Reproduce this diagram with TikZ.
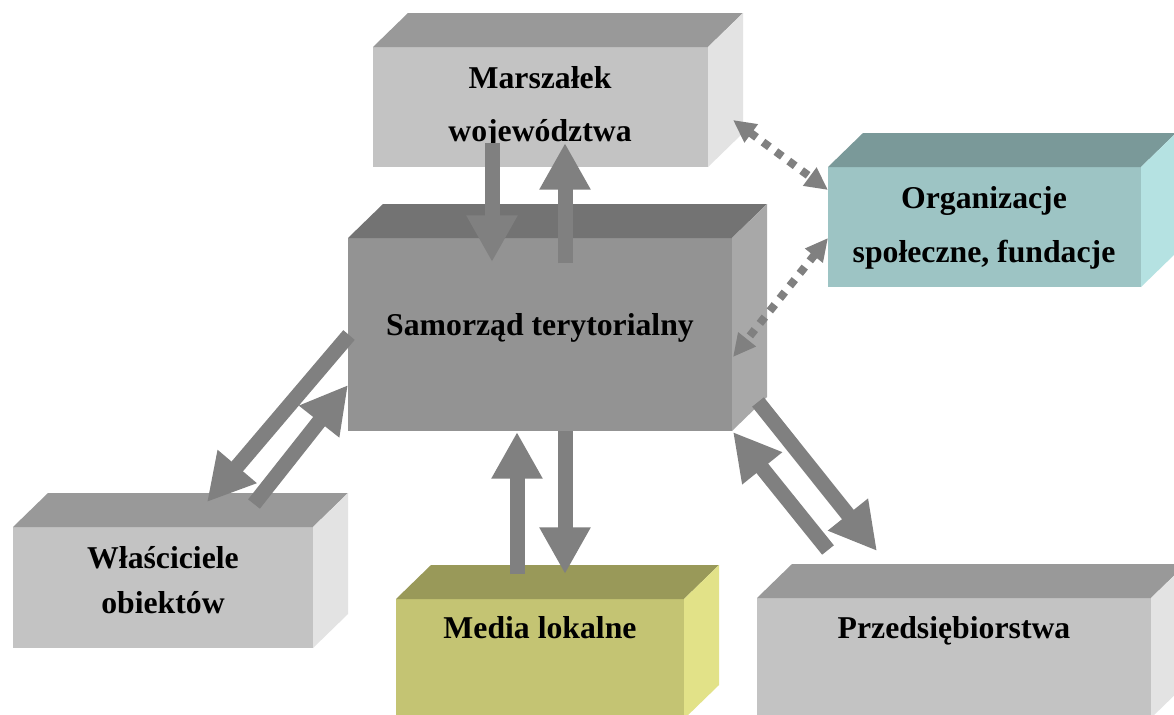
\documentclass[tikz,border=0pt]{standalone}
\usepackage{fontspec}
\setmainfont{Liberation Serif}
\usetikzlibrary{arrows.meta}
\definecolor{lgF}{HTML}{C3C3C3}
\definecolor{lgT}{HTML}{999999}
\definecolor{lgS}{HTML}{E3E3E3}
\definecolor{dgF}{HTML}{939393}
\definecolor{dgT}{HTML}{737373}
\definecolor{dgS}{HTML}{A8A8A8}
\definecolor{cyF}{HTML}{9DC4C4}
\definecolor{cyT}{HTML}{7A9999}
\definecolor{cyS}{HTML}{B5E2E2}
\definecolor{yeF}{HTML}{C4C473}
\definecolor{yeT}{HTML}{999959}
\definecolor{yeS}{HTML}{E2E288}
\definecolor{arr}{HTML}{808080}
% name, x1, y1, x2, y2, front, top, side
\newcommand\mycuboid[8]{%
  \fill[#6] (#2,#3) rectangle (#4,#5);
  \fill[#7] (#2,#3) -- (#2+35,#3-34) -- (#4+35,#3-34) -- (#4,#3) -- cycle;
  \fill[#8] (#4,#3) -- (#4+35,#3-34) -- (#4+35,#5-34) -- (#4,#5) -- cycle;
  \coordinate (#1) at ({(#2+#4)/2},{(#3+#5)/2});
}
\tikzset{
  blockarrow/.style={draw=arr, line width=11.25pt, line cap=butt,
    -{Triangle[length=35pt,width=36pt]}},
  dotarrow/.style={draw=arr, line width=6pt, line cap=butt,
    dash pattern=on 6pt off 6pt,
    {Triangle[length=17pt,width=16pt]}-{Triangle[length=17pt,width=16pt]}},
  lbl/.style={anchor=base, inner sep=0pt,
    font=\fontsize{23.8pt}{28pt}\selectfont\bfseries}
}
\begin{document}
\begin{tikzpicture}[x=0.75pt,y=-0.75pt]
\clip (0,0) rectangle (1174,714);
\fill[white] (0,0) rectangle (1174,714);
% boxes
\mycuboid{marsz}{373}{47}{708}{167}{lgF}{lgT}{lgS}
\mycuboid{samo}{348}{238}{732}{431}{dgF}{dgT}{dgS}
\mycuboid{org}{828}{167}{1141}{287}{cyF}{cyT}{cyS}
\mycuboid{wlas}{13}{527}{313}{648}{lgF}{lgT}{lgS}
\mycuboid{media}{396}{599}{684}{719}{yeF}{yeT}{yeS}
\mycuboid{przed}{757}{598}{1151}{718}{lgF}{lgT}{lgS}
% labels
\node[lbl] (marszA) at (540,88) {Marszałek};
\node[lbl] (marszB) at (540,141) {województwa};
\node[lbl] (samoA) at (540,335) {Samorząd terytorialny};
\node[lbl] (orgA) at (984,208) {Organizacje};
\node[lbl] (orgB) at (984,262) {społeczne, fundacje};
\node[lbl] (wlasA) at (163,568) {Właściciele};
\node[lbl] (wlasB) at (163,613) {obiektów};
\node[lbl] (mediaA) at (540,638) {Media lokalne};
\node[lbl] (przedA) at (954,638) {Przedsiębiorstwa};
% arrow end points
\coordinate (m1s) at (492,143); \coordinate (m1e) at (492,262);
\coordinate (m2s) at (565,263); \coordinate (m2e) at (565,143);
\coordinate (w1s) at (349,335); \coordinate (w1e) at (207,502);
\coordinate (w2s) at (254,504); \coordinate (w2e) at (348,385);
\coordinate (d1s) at (517,574); \coordinate (d1e) at (517,432);
\coordinate (d2s) at (565,431); \coordinate (d2e) at (565,574);
\coordinate (p1s) at (758,402); \coordinate (p1e) at (877,551);
\coordinate (p2s) at (828,550); \coordinate (p2e) at (733,432);
\coordinate (o1a) at (733,120); \coordinate (o1b) at (828,190);
\coordinate (o2a) at (828,238); \coordinate (o2b) at (733,357);
% arrows
\draw[blockarrow] (m1s) -- (m1e);
\draw[blockarrow] (m2s) -- (m2e);
\draw[blockarrow] (w1s) -- (w1e);
\draw[blockarrow] (w2s) -- (w2e);
\draw[blockarrow] (d1s) -- (d1e);
\draw[blockarrow] (d2s) -- (d2e);
\draw[blockarrow] (p1s) -- (p1e);
\draw[blockarrow] (p2s) -- (p2e);
\draw[dotarrow] (o1a) -- (o1b);
\draw[dotarrow] (o2a) -- (o2b);
\end{tikzpicture}
\end{document}
